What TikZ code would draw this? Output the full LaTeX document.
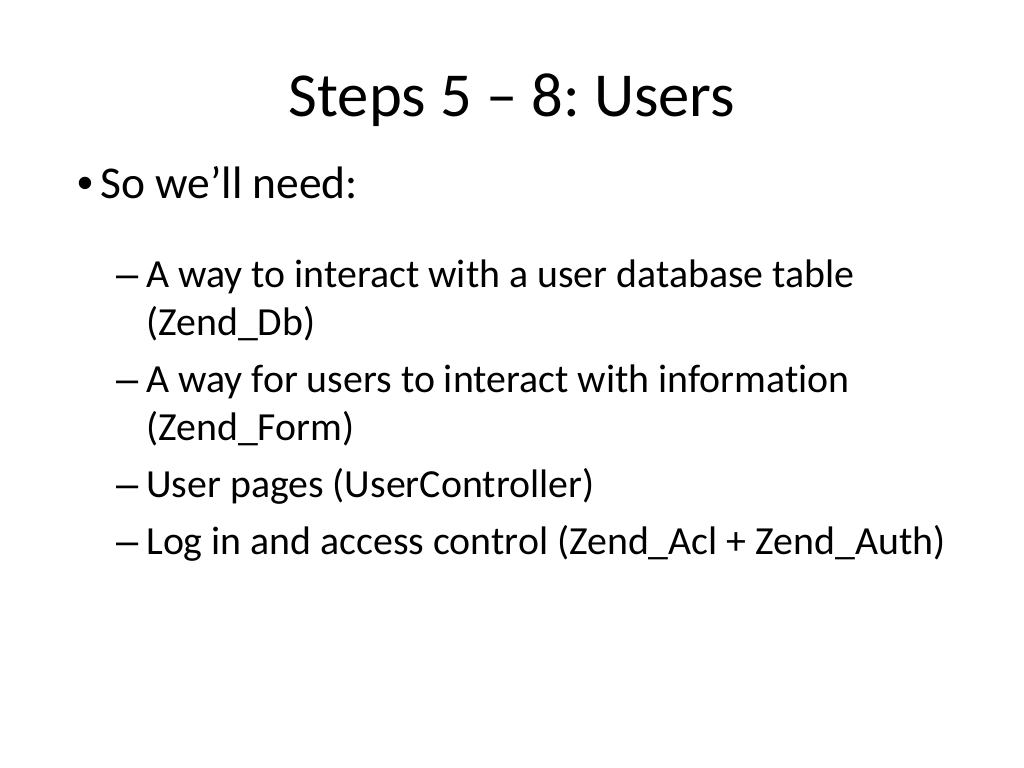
\documentclass[tikz,border=0pt]{standalone}
\usepackage{fontspec}
\setmainfont{Carlito}[Ligatures={NoCommon}]
\newfontfamily\markfont{Liberation Sans}
\frenchspacing
\begin{document}
\begin{tikzpicture}[x=0.703125pt, y=-0.703125pt,
			slidetitle/.style = {inner sep=0pt, anchor=base, font=\fontsize{44}{52}\selectfont},
			levelone/.style = {inner sep=0pt, anchor=base west, font=\fontsize{32}{38}\selectfont},
			leveltwo/.style = {inner sep=0pt, anchor=base west, font=\fontsize{28}{34}\selectfont},
			markone/.style = {inner sep=0pt, anchor=base west, font=\markfont\fontsize{32}{38}\selectfont},
			marktwo/.style = {inner sep=0pt, anchor=base west, font=\markfont\fontsize{28}{34}\selectfont}
					]
			\useasboundingbox[fill=white] (0,0) rectangle (1024,768);
			\def\markone{77}
			\def\textone{100}
			\def\marktwo{116}
			\def\texttwo{146}
			\node[slidetitle] (title) at (512,117) {Steps 5 – 8: Users};
			\node[markone] (bulletone) at (\markone,199) {•};
			\node[levelone] (need) at (\textone,199) {So we’ll need:};
			\node[marktwo] (dashdb) at (\marktwo,288) {–};
			\node[leveltwo] (db) at (\texttwo,288) {A way to interact with a user database table};
			\node[leveltwo] (dbname) at (\texttwo,336) {(Zend\_Db)};
			\node[marktwo] (dashform) at (\marktwo,392) {–};
			\node[leveltwo] (form) at (\texttwo,392) {A way for users to interact with information};
			\node[leveltwo] (formname) at (\texttwo,440) {(Zend\_Form)};
			\node[marktwo] (dashpages) at (\marktwo,497) {–};
			\node[leveltwo] (pages) at (\texttwo,497) {User pages (UserController)};
			\node[marktwo] (dashlogin) at (\marktwo,554) {–};
			\node[leveltwo] (login) at (\texttwo,554) {Log in and access control (Zend\_Acl + Zend\_Auth)};
		\end{tikzpicture}
\end{document}
